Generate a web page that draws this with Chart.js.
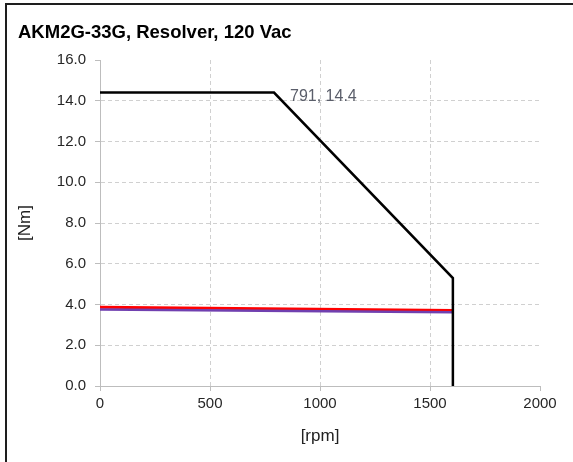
<!DOCTYPE html>
<html lang="en">
<head>
<meta charset="UTF-8">
<style>
body {
    margin: 0;
    background: #fff;
    font-family: "Liberation Sans", Arial, sans-serif;
}
.frame {
    position: absolute;
    left: 5px;
    top: 3px;
    right: 0;
    bottom: 0;
    border-left: 2px solid #1e1e1e;
    border-top: 2px solid #1e1e1e;
}
.chart-container {
    position: absolute;
    left: 0;
    top: 0;
    width: 573px;
    height: 462px;
}
</style>
</head>
<body>
<div class="frame"></div>
<div class="chart-container">
<canvas id="torqueChart" width="573" height="462"></canvas>
</div>
<script src="https://cdn.jsdelivr.net/npm/chart.js"></script>
<script>
const chartTitle = 'AKM2G-33G, Resolver, 120 Vac';

// peak torque envelope (black)
const peakSpeed = [0, 791, 1604, 1604];
const peakTorque = [14.4, 14.4, 5.3, 0];

// continuous torque curves
const contSpeedRed = [0, 1604];
const contTorqueRed = [3.87, 3.70];
const contSpeedBlue = [0, 1604];
const contTorqueBlue = [3.76, 3.62];

// corner point label
const cornerSpeed = 791;
const cornerTorque = 14.4;

const xTickValues = [0, 500, 1000, 1500, 2000];
const yTickValues = [0, 2, 4, 6, 8, 10, 12, 14, 16];

const fontFamily = '"Liberation Sans", Arial, sans-serif';

function toPoints(xs, ys) {
    return xs.map((x, i) => ({x: x, y: ys[i]}));
}

const gridColor = (max) => (context) => {
    return context.tick && context.tick.value === max ? 'rgba(0,0,0,0)' : '#d0d0d0';
};

// title and corner label drawn on the canvas
const textPlugin = {
    id: 'textPlugin',
    afterDatasetsDraw(chart) {
        const ctx = chart.ctx;
        const xs = chart.scales.x;
        const ys = chart.scales.y;
        ctx.save();
        ctx.fillStyle = '#5a5e6a';
        ctx.font = '16px ' + fontFamily;
        ctx.textAlign = 'left';
        ctx.textBaseline = 'middle';
        const label = cornerSpeed + ', ' + cornerTorque.toFixed(1);
        ctx.fillText(label, xs.getPixelForValue(cornerSpeed) + 16, ys.getPixelForValue(cornerTorque) + 4);
        ctx.fillStyle = '#000';
        ctx.font = 'bold 18.5px ' + fontFamily;
        ctx.textBaseline = 'alphabetic';
        ctx.fillText(chartTitle, 18, 38);
        ctx.restore();
    }
};

const ctx = document.getElementById('torqueChart').getContext('2d');
const torqueChart = new Chart(ctx, {
    type: 'scatter',
    data: {
        datasets: [{
            label: 'Peak',
            data: toPoints(peakSpeed, peakTorque),
            showLine: true,
            borderColor: '#000000',
            borderWidth: 2.5,
            borderJoinStyle: 'miter',
            pointRadius: 0,
            tension: 0
        }, {
            label: 'Continuous 2',
            data: toPoints(contSpeedBlue, contTorqueBlue),
            showLine: true,
            borderColor: '#7040b0',
            borderWidth: 2.5,
            pointRadius: 0
        }, {
            label: 'Continuous 1',
            data: toPoints(contSpeedRed, contTorqueRed),
            showLine: true,
            borderColor: '#ff0000',
            borderWidth: 3,
            pointRadius: 0
        }]
    },
    options: {
        responsive: false,
        animation: false,
        layout: {
            padding: {left: 8, right: 33, top: 60, bottom: 15}
        },
        scales: {
            x: {
                type: 'linear',
                min: 0,
                max: 2000,
                afterFit: (scale) => { scale.height = 61; },
                afterBuildTicks: (scale) => { scale.ticks = xTickValues.map(v => ({value: v})); },
                ticks: {
                    color: '#262626',
                    padding: 4,
                    maxRotation: 0,
                    font: {size: 15, family: fontFamily},
                    callback: (v) => String(v)
                },
                grid: {
                    color: gridColor(2000),
                    tickColor: '#bdbdbd',
                    tickBorderDash: [],
                    tickLength: 5
                },
                border: {color: '#bdbdbd', width: 1, dash: [4, 3]},
                title: {
                    display: true,
                    text: '[rpm]',
                    color: '#222',
                    padding: 0,
                    font: {size: 17, family: fontFamily}
                }
            },
            y: {
                min: 0,
                max: 16,
                afterFit: (scale) => { scale.width = 92; },
                afterBuildTicks: (scale) => { scale.ticks = yTickValues.map(v => ({value: v})); },
                ticks: {
                    color: '#262626',
                    padding: 9,
                    font: {size: 15, family: fontFamily},
                    callback: (v) => v.toFixed(1)
                },
                grid: {
                    color: gridColor(16),
                    tickColor: '#bdbdbd',
                    tickBorderDash: [],
                    tickLength: 5
                },
                border: {color: '#bdbdbd', width: 1, dash: [4, 3]},
                title: {
                    display: true,
                    text: '[Nm]',
                    color: '#222',
                    padding: {top: 7, bottom: 0},
                    font: {size: 17, family: fontFamily}
                }
            }
        },
        plugins: {
            legend: {display: false},
            tooltip: {enabled: false}
        }
    },
    plugins: [textPlugin]
});
</script>
</body>
</html>
